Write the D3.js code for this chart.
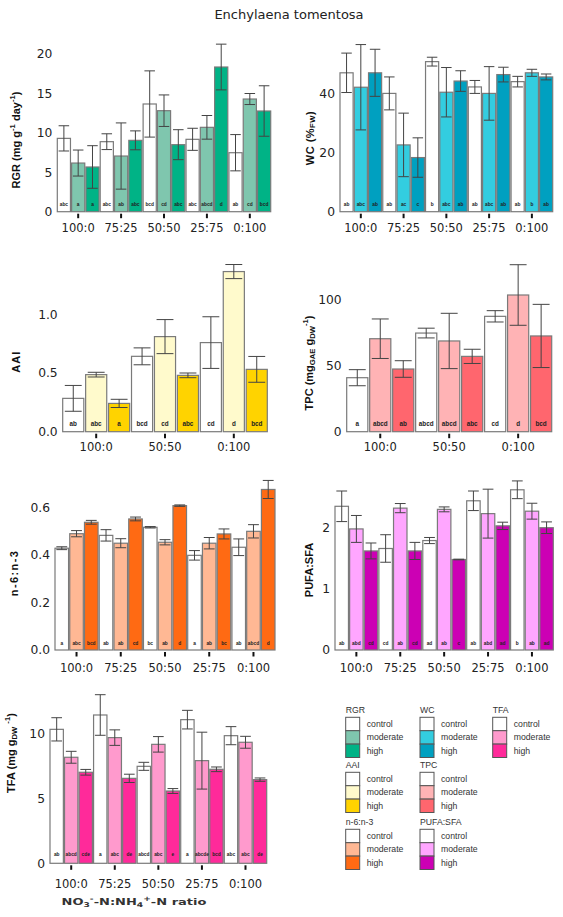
<!DOCTYPE html>
<html>
<head>
<meta charset="utf-8">
<script src="https://cdn.jsdelivr.net/npm/d3@7"></script>
<style>
  body { margin: 0; background: #fff; }
  svg { display: block; }
</style>
</head>
<body>
<div id="chart"></div>
<script>
// groups and treatments
var ratios5 = ["100:0", "75:25", "50:50", "25:75", "0:100"]
var ratios3 = ["100:0", "50:50", "0:100"]
var treatments = ["control", "moderate", "high"]

// values, order = ratio x treatment
var rgrMean = [9.3, 6.17, 5.67, 8.88, 7.06, 9.05, 13.66, 12.81, 8.5, 9.18, 10.7, 18.35, 7.48, 14.29, 12.77]
var rgrErr = [1.6, 1.65, 2.7, 1.0, 4.2, 1.2, 4.2, 2.0, 1.9, 1.4, 1.5, 2.9, 2.3, 0.7, 3.2]
var rgrLetters = ["abc", "a", "a", "abc", "ab", "abc", "bcd", "cd", "abc", "abc", "abcd", "d", "ab", "cd", "bcd"]

var wcMean = [47.2, 42.3, 47.2, 40.2, 22.7, 18.4, 51.0, 40.6, 44.4, 42.4, 40.2, 46.6, 44.2, 47.2, 45.8]
var wcErr = [6.7, 14.5, 8.0, 5.6, 10.8, 6.7, 1.5, 8.4, 3.5, 2.2, 9.1, 2.5, 1.8, 1.2, 1.0]
var wcLetters = ["ab", "abc", "ab", "ab", "ac", "c", "b", "abc", "ab", "ab", "abc", "ab", "ab", "b", "ab"]

var aaiMean = [0.284, 0.486, 0.241, 0.642, 0.81, 0.48, 0.759, 1.364, 0.531]
var aaiErr = [0.11, 0.02, 0.035, 0.072, 0.145, 0.02, 0.22, 0.06, 0.11]
var aaiLetters = ["ab", "abc", "a", "bcd", "cd", "abc", "cd", "d", "bcd"]

var tpcMean = [41.0, 70.6, 47.6, 74.9, 68.9, 57.2, 87.6, 103.8, 72.7]
var tpcErr = [6.1, 15, 6.3, 3.7, 21, 5.4, 4.3, 23, 24]
var tpcLetters = ["a", "abcd", "ab", "abcd", "abcd", "abc", "cd", "d", "bcd"]

var n6n3Mean = [0.428, 0.489, 0.537, 0.482, 0.449, 0.551, 0.516, 0.453, 0.607, 0.398, 0.449, 0.488, 0.432, 0.499, 0.675]
var n6n3Err = [0.006, 0.013, 0.008, 0.024, 0.019, 0.008, 0.003, 0.011, 0.003, 0.02, 0.024, 0.021, 0.035, 0.028, 0.038]
var n6n3Letters = ["a", "abc", "bcd", "ab", "ab", "cd", "bc", "ab", "d", "a", "ab", "bc", "ab", "abcd", "d"]

var pufaMean = [2.35, 1.98, 1.62, 1.66, 2.32, 1.62, 1.79, 2.3, 1.48, 2.44, 2.23, 2.03, 2.62, 2.27, 2.0]
var pufaErr = [0.25, 0.22, 0.13, 0.225, 0.075, 0.14, 0.05, 0.04, 0.005, 0.16, 0.4, 0.06, 0.145, 0.13, 0.095]
var pufaLetters = ["ab", "abd", "cd", "cd", "ab", "cd", "ad", "ab", "c", "ab", "abd", "ad", "b", "ab", "ad"]

var tfaMean = [10.36, 8.2, 7.04, 11.47, 9.72, 6.57, 7.5, 9.2, 5.59, 11.11, 7.94, 7.27, 9.87, 9.36, 6.47]
var tfaErr = [0.9, 0.46, 0.22, 1.57, 0.6, 0.32, 0.31, 0.6, 0.19, 0.72, 2.2, 0.18, 0.7, 0.46, 0.13]
var tfaLetters = ["ab", "abcd", "cde", "a", "abc", "de", "abcd", "abc", "e", "a", "abcde", "bcd", "abc", "abc", "de"]

// colours per panel: control, moderate, high
var rgrColors = ["#ffffff", "#7fc6ae", "#00b386"]
var wcColors = ["#ffffff", "#33cde0", "#00a0c0"]
var aaiColors = ["#ffffff", "#fffacc", "#ffd300"]
var tpcColors = ["#ffffff", "#ffb3b5", "#ff666e"]
var n6n3Colors = ["#ffffff", "#ffb894", "#ff6a13"]
var pufaColors = ["#ffffff", "#ffa6ff", "#cc00b4"]
var tfaColors = ["#ffffff", "#ff9acd", "#ff2a9a"]

const W = 563, H = 917

const svg = d3.select("#chart").append("svg")
    .attr("width", W)
    .attr("height", H)
svg.append("rect").attr("width", W).attr("height", H).attr("fill", "#fff")

svg.append("text")
    .attr("x", 289).attr("y", 19)
    .attr("text-anchor", "middle")
    .style("font-family", "DejaVu Sans, Verdana, sans-serif")
    .style("font-size", "13px")
    .style("fill", "#222")
    .text("Enchylaena tomentosa")

// text with sub / superscripts, parts = [[text, "sup"|"sub"|""], ...]
function richText(sel, parts, size){
    var cur = 0
    parts.forEach(p => {
        var target = p[1] == "sup" ? -size*0.4 : (p[1] == "sub" ? size*0.25 : 0)
        sel.append("tspan")
            .attr("dy", target - cur)
            .style("font-size", (p[1] ? size*0.7 : size) + "px")
            .text(p[0])
        cur = target
    })
}

var panels = [
    { mean: rgrMean, err: rgrErr, letters: rgrLetters, colors: rgrColors, groups: ratios5,
      x0: 57.3, x1: 270.7, y0: 211.7, yRef: 54, refVal: 20, ticks: [0, 5, 10, 15, 20], fmt: d3.format("d"),
      ylab: [["RGR (mg g", ""], ["-1", "sup"], [" day", ""], ["-1", "sup"], [")", ""]], labX: 17, labY: 140, labSpace: 0,
      letterSize: 4.8, letterDy: 6, tickDy: 20 },
    { mean: wcMean, err: wcErr, letters: wcLetters, colors: wcColors, groups: ratios5,
      x0: 340, x1: 552.7, y0: 211.7, yRef: 94, refVal: 40, ticks: [0, 20, 40], fmt: d3.format("d"),
      ylab: [["WC (%", ""], ["FW", "sub"], [")", ""]], labX: 310.7, labY: 138, labSpace: 0.5,
      letterSize: 4.8, letterDy: 6, tickDy: 20 },
    { mean: aaiMean, err: aaiErr, letters: aaiLetters, colors: aaiColors, groups: ratios3,
      x0: 62.7, x1: 267.3, y0: 431.7, yRef: 314.3, refVal: 1, ticks: [0, 0.5, 1], fmt: d3.format(".1f"),
      ylab: [["AAI", ""]], labX: 16.7, labY: 361.7, labSpace: 1,
      letterSize: 6.3, letterDy: 6, tickDy: 19.5 },
    { mean: tpcMean, err: tpcErr, letters: tpcLetters, colors: tpcColors, groups: ratios3,
      x0: 346.7, x1: 551.7, y0: 431.7, yRef: 300, refVal: 100, ticks: [0, 50, 100], fmt: d3.format("d"),
      ylab: [["TPC (mg", ""], ["GAE", "sub"], [" g", ""], ["DW", "sub"], ["-1", "sup"], [")", ""]], labX: 310, labY: 363, labSpace: 0,
      letterSize: 6.3, letterDy: 6, tickDy: 19.5 },
    { mean: n6n3Mean, err: n6n3Err, letters: n6n3Letters, colors: n6n3Colors, groups: ratios5,
      x0: 55, x1: 275, y0: 650, yRef: 507.3, refVal: 0.6, ticks: [0, 0.2, 0.4, 0.6], fmt: d3.format(".1f"),
      ylab: [["n-6:n-3", ""]], labX: 15, labY: 573, labSpace: 1.4,
      letterSize: 4.8, letterDy: 5, tickDy: 21.5 },
    { mean: pufaMean, err: pufaErr, letters: pufaLetters, colors: pufaColors, groups: ratios5,
      x0: 335, x1: 553.3, y0: 650, yRef: 527.7, refVal: 2, ticks: [0, 1, 2], fmt: d3.format("d"),
      ylab: [["PUFA:SFA", ""]], labX: 310, labY: 570, labSpace: 0,
      letterSize: 4.8, letterDy: 5, tickDy: 21.5 },
    { mean: tfaMean, err: tfaErr, letters: tfaLetters, colors: tfaColors, groups: ratios5,
      x0: 50, x1: 266.7, y0: 863.3, yRef: 734, refVal: 10, ticks: [0, 5, 10], fmt: d3.format("d"),
      ylab: [["TFA (mg g", ""], ["DW", "sub"], [" ", ""], ["-1", "sup"], [")", ""]], labX: 12.3, labY: 753, labSpace: 0,
      letterSize: 4.8, letterDy: 7, tickDy: 24.5 }
]

panels.forEach(p => {
    var g = svg.append("g")
    var keys = []
    p.groups.forEach(gr => treatments.forEach(t => keys.push(gr + "|" + t)))
    var rows = keys.map((k, i) => ({ key: k, group: k.split("|")[0], t: i % 3,
                                     mean: p.mean[i], err: p.err[i], letter: p.letters[i] }))

    var x = d3.scaleBand().domain(keys).range([p.x0, p.x1]).paddingInner(0.08).paddingOuter(0)
    var y = d3.scaleLinear().domain([0, p.refVal]).range([p.y0, p.yRef])
    var bw = x.bandwidth()

    // y tick labels only, no axis line
    var yAxis = g.append("g")
        .attr("transform", "translate(" + (p.x0 - 5) + ",0)")
        .call(d3.axisLeft(y).tickValues(p.ticks).tickFormat(p.fmt).tickSize(0).tickPadding(0))
    yAxis.select(".domain").remove()
    yAxis.selectAll("text")
        .style("font-family", "DejaVu Sans, Verdana, sans-serif")
        .style("font-size", "12.3px")
        .style("fill", "#222")

    // x ticks at group centres
    var mid = gr => x(gr + "|moderate") + bw / 2
    g.selectAll(".xt").data(p.groups).enter().append("line")
        .attr("x1", mid).attr("x2", mid)
        .attr("y1", p.y0 + 2).attr("y2", p.y0 + 6.5)
        .attr("stroke", "#111").attr("stroke-width", 2)
    g.selectAll(".xl").data(p.groups).enter().append("text")
        .attr("x", mid).attr("y", p.y0 + p.tickDy)
        .attr("text-anchor", "middle")
        .style("font-family", "DejaVu Sans, Verdana, sans-serif")
        .style("font-size", "11.5px")
        .style("fill", "#222")
        .text(d => d)

    // bars
    g.selectAll(".bar").data(rows).enter().append("rect")
        .attr("x", d => x(d.key))
        .attr("y", d => y(d.mean))
        .attr("width", bw)
        .attr("height", d => p.y0 - y(d.mean))
        .attr("fill", d => p.colors[d.t])
        .attr("stroke", "#7a7a7a")
        .attr("stroke-width", 1.2)

    // error bars
    var cap = bw * 0.4
    var eb = g.selectAll(".eb").data(rows).enter().append("g")
        .attr("stroke", "#444").attr("stroke-width", 1)
    eb.append("line")
        .attr("x1", d => x(d.key) + bw / 2).attr("x2", d => x(d.key) + bw / 2)
        .attr("y1", d => y(d.mean + d.err)).attr("y2", d => y(d.mean - d.err))
    eb.append("line")
        .attr("x1", d => x(d.key) + bw / 2 - cap).attr("x2", d => x(d.key) + bw / 2 + cap)
        .attr("y1", d => y(d.mean + d.err)).attr("y2", d => y(d.mean + d.err))
    eb.append("line")
        .attr("x1", d => x(d.key) + bw / 2 - cap).attr("x2", d => x(d.key) + bw / 2 + cap)
        .attr("y1", d => y(d.mean - d.err)).attr("y2", d => y(d.mean - d.err))

    // letters
    g.selectAll(".let").data(rows).enter().append("text")
        .attr("x", d => x(d.key) + bw / 2)
        .attr("y", p.y0 - p.letterDy)
        .attr("text-anchor", "middle")
        .style("font-family", "Liberation Sans, Arial, sans-serif")
        .style("font-weight", "bold")
        .style("font-size", p.letterSize + "px")
        .style("fill", "#222")
        .text(d => d.letter)

    // y label
    var lab = g.append("text")
        .attr("transform", "translate(" + p.labX + "," + p.labY + ") rotate(-90)")
        .attr("text-anchor", "middle")
        .attr("dominant-baseline", "middle")
        .style("font-family", "Liberation Sans, Arial, sans-serif")
        .style("font-weight", "bold")
        .style("letter-spacing", p.labSpace + "px")
        .style("fill", "#111")
    richText(lab, p.ylab, 11)
})

// x axis title under TFA, stretched sideways like the source image
var xt = svg.append("text")
    .attr("transform", "translate(134,905) scale(1.37,1)")
    .attr("text-anchor", "middle")
    .style("font-family", "DejaVu Sans, Verdana, sans-serif")
    .style("font-weight", "bold")
    .style("fill", "#333")
richText(xt, [["NO", ""], ["3", "sub"], ["-", "sup"], ["-N:NH", ""], ["4", "sub"], ["+", "sup"], ["-N ratio", ""]], 9.5)

// legend
var legendNames = ["RGR", "WC", "TFA", "AAI", "TPC", "n-6:n-3", "PUFA:SFA"]
var legendColors = [rgrColors, wcColors, tfaColors, aaiColors, tpcColors, n6n3Colors, pufaColors]
var legendPos = [[345.7, 717.3], [420, 717.3], [492.7, 717.3], [345.7, 772.3], [420, 772.3], [345.7, 829.3], [420, 829.3]]

legendNames.forEach((name, i) => {
    var lg = svg.append("g").attr("transform", "translate(" + legendPos[i][0] + "," + legendPos[i][1] + ")")
    lg.append("text")
        .attr("x", 0).attr("y", -4)
        .style("font-family", "Liberation Sans, Arial, sans-serif")
        .style("font-size", "8.7px")
        .style("fill", "#333")
        .text(name)
    treatments.forEach((t, j) => {
        lg.append("rect")
            .attr("x", 0).attr("y", j * 13.4)
            .attr("width", 14).attr("height", 13.4)
            .attr("fill", legendColors[i][j])
            .attr("stroke", "#555").attr("stroke-width", 1)
        lg.append("text")
            .attr("x", 21).attr("y", j * 13.4 + 9.5)
            .style("font-family", "Liberation Sans, Arial, sans-serif")
            .style("font-size", "8.7px")
            .style("fill", "#333")
            .text(t)
    })
})
</script>
</body>
</html>
